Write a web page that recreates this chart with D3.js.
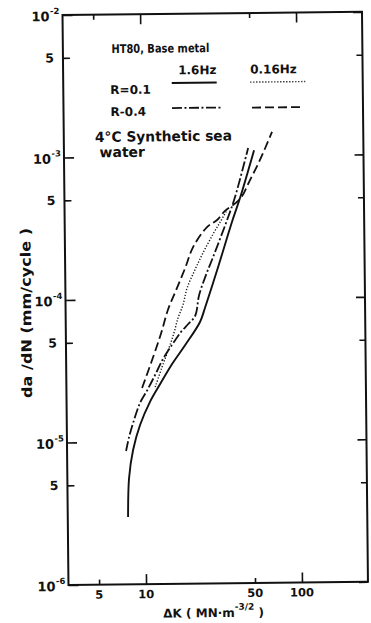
<!DOCTYPE html>
<html>
<head>
<meta charset="utf-8">
<script src="https://cdn.jsdelivr.net/npm/d3@7"></script>
<style>
  body { margin: 0; background: #fff; }
  text { font-family: "DejaVu Sans", sans-serif; font-weight: bold; fill: #111; }
</style>
</head>
<body>
<svg id="chart" width="371" height="623"></svg>
<script>
// Data

const kTicks = [5, 10, 50, 100];
const kTickLabels = ["5", "10", "50", "100"];
const kMinorTicks = [5, 50];
const kMajorTicks = [10, 100];

const rateDecades = [1e-2, 1e-3, 1e-4, 1e-5, 1e-6];
const rateDecadeExps = ["-2", "-3", "-4", "-5", "-6"];
const rateFives = [5e-3, 5e-4, 5e-5, 5e-6];
const rateFiveLabels = ["5", "5", "5", "5"];

// R=0.1, 1.6Hz  (solid)
const r01f16K    = [7.75, 7.91, 8.43, 9.38, 10.9, 12.7, 15.2, 18.5, 23.1, 24.9, 30.0, 37.6, 42.5, 52.7];
const r01f16Rate = [2.97e-6, 5.57e-6, 8.76e-6, 1.31e-5, 1.90e-5, 2.53e-5, 3.49e-5, 4.73e-5, 6.85e-5, 8.58e-5, 1.58e-4, 3.43e-4, 5.04e-4, 1.09e-3];

// R=0.1, 0.16Hz (dotted)
const r01f016K    = [11.8, 13.1, 14.4, 15.7, 16.7, 18.0, 19.2, 21.6, 24.4, 28.4, 31.6, 35.0];
const r01f016Rate = [2.41e-5, 3.33e-5, 4.38e-5, 5.76e-5, 7.33e-5, 9.04e-5, 1.19e-4, 1.59e-4, 2.09e-4, 2.83e-4, 3.43e-4, 4.16e-4];

// R=0.4, 1.6Hz  (dash-dot)
const r04f16K    = [7.60, 7.96, 8.46, 9.41, 10.5, 11.8, 13.3, 15.2, 17.4, 19.4, 21.5, 22.9, 25.4, 28.3, 35.0, 39.5, 48.3];
const r04f16Rate = [8.62e-6, 1.08e-5, 1.35e-5, 1.87e-5, 2.30e-5, 2.93e-5, 3.79e-5, 4.74e-5, 5.84e-5, 6.64e-5, 7.55e-5, 1.06e-4, 1.46e-4, 1.95e-4, 3.54e-4, 5.13e-4, 1.13e-3];

// R=0.4, 0.16Hz (dashed)
const r04f016K    = [9.72, 11.5, 13.0, 14.4, 16.3, 18.7, 21.1, 26.0, 30.2, 34.0, 42.5, 49.4, 57.4, 68.9];
const r04f016Rate = [2.38e-5, 3.92e-5, 5.77e-5, 8.36e-5, 1.15e-4, 1.64e-4, 2.30e-4, 3.17e-4, 3.55e-4, 4.10e-4, 4.96e-4, 6.73e-4, 9.29e-4, 1.46e-3];

// Layout

const frame = {left: 65.5, right: 365, top: 13.4, bottom: 583.4};

const x = d3.scaleLog().domain([3.18, 265]).range([frame.left, frame.right]);
const y = d3.scaleLog().domain([1e-6, 1e-2]).range([frame.bottom, frame.top]);

const svg = d3.select("#chart");
svg.append("rect").attr("width", 371).attr("height", 623).attr("fill", "#fff");

// the scan is tilted a little
const g = svg.append("g").attr("transform", "rotate(-0.6, 215, 300)");

// Axes (inward ticks on all four sides)

function ticks(axisFn, scale, values, size, translate) {
    g.append("g")
        .attr("transform", translate)
        .call(axisFn(scale).tickValues(values).tickSize(size).tickSizeOuter(0).tickFormat(""))
        .call(a => a.select(".domain").remove())
        .selectAll("line")
            .attr("stroke", "#111")
            .attr("stroke-width", 1.6);
}

ticks(d3.axisLeft, y, rateDecades, -10, "translate(" + frame.left + ",0)");
ticks(d3.axisLeft, y, rateFives, -7, "translate(" + frame.left + ",0)");
ticks(d3.axisRight, y, rateDecades, -9, "translate(" + frame.right + ",0)");
ticks(d3.axisRight, y, rateFives, -6, "translate(" + frame.right + ",0)");
ticks(d3.axisBottom, x, kMajorTicks, -10, "translate(0," + frame.bottom + ")");
ticks(d3.axisBottom, x, kMinorTicks, -5, "translate(0," + frame.bottom + ")");
ticks(d3.axisTop, x, kMajorTicks, -10, "translate(0," + frame.top + ")");
ticks(d3.axisTop, x, kMinorTicks, -5, "translate(0," + frame.top + ")");

g.append("rect")
    .attr("x", frame.left)
    .attr("y", frame.top)
    .attr("width", frame.right - frame.left)
    .attr("height", frame.bottom - frame.top)
    .attr("fill", "none")
    .attr("stroke", "#111")
    .attr("stroke-width", 2);

// x tick labels
g.selectAll(".xlab")
    .data(kTicks)
    .enter().append("text")
        .attr("class", "xlab")
        .attr("x", d => x(d))
        .attr("y", frame.bottom + 14)
        .attr("text-anchor", "middle")
        .attr("font-size", 11.5)
        .text((d, i) => kTickLabels[i]);

// y tick labels: 10^n
let dec = g.selectAll(".ydec")
    .data(rateDecades)
    .enter().append("g")
        .attr("class", "ydec");
dec.append("text")
    .attr("x", frame.left - 13)
    .attr("y", d => y(d) + 6)
    .attr("text-anchor", "end")
    .attr("font-size", 13)
    .text("10");
dec.append("text")
    .attr("x", frame.left - 12.5)
    .attr("y", d => y(d) - 1)
    .attr("font-size", 8.5)
    .text((d, i) => rateDecadeExps[i]);

// y tick labels: 5
g.selectAll(".yfive")
    .data(rateFives)
    .enter().append("text")
        .attr("class", "yfive")
        .attr("x", frame.left - 9)
        .attr("y", d => y(d) + 4.5)
        .attr("text-anchor", "end")
        .attr("font-size", 12.5)
        .text((d, i) => rateFiveLabels[i]);

// axis titles
g.append("text")
    .attr("transform", "translate(31,311) rotate(-90)")
    .attr("text-anchor", "middle")
    .attr("font-size", 14)
    .attr("textLength", 170)
    .attr("lengthAdjust", "spacingAndGlyphs")
    .text("da /dN (mm/cycle )");

let xt = g.append("text")
    .attr("x", 160)
    .attr("y", 617)
    .attr("font-size", 12);
xt.append("tspan").text("\u0394K ( MN\u00b7m");
xt.append("tspan").attr("dy", -7).attr("font-size", 9).text("-3/2");
xt.append("tspan").attr("dy", 7).text(" )");

// Curves

const series = [
    {k: r01f16K,  rate: r01f16Rate,  dash: null,          width: 1.9},
    {k: r01f016K, rate: r01f016Rate, dash: "1.2,1.8",     width: 1.4},
    {k: r04f16K,  rate: r04f16Rate,  dash: "10,2.5,2,2.5", width: 1.8},
    {k: r04f016K, rate: r04f016Rate, dash: "9,4",         width: 1.8}
];

const line = d3.line()
    .x(d => x(d[0]))
    .y(d => y(d[1]))
    .curve(d3.curveCatmullRom.alpha(0.5));

g.selectAll(".curve")
    .data(series)
    .enter().append("path")
        .attr("class", "curve")
        .attr("d", s => line(s.k.map((k, i) => [k, s.rate[i]])))
        .attr("fill", "none")
        .attr("stroke", "#111")
        .attr("stroke-width", s => s.width)
        .attr("stroke-dasharray", s => s.dash)
        .attr("stroke-linecap", "butt");

// Legend

g.append("text").attr("x", 114).attr("y", 52).attr("font-size", 12)
    .attr("textLength", 98).attr("lengthAdjust", "spacingAndGlyphs")
    .text("HT80, Base metal");
g.append("text").attr("x", 180.5).attr("y", 74).attr("font-size", 12).text("1.6Hz");
g.append("text").attr("x", 252.5).attr("y", 74).attr("font-size", 12).text("0.16Hz");
g.append("text").attr("x", 112.5).attr("y", 93).attr("font-size", 12).text("R=0.1");
g.append("text").attr("x", 112.5).attr("y", 115).attr("font-size", 12).text("R-0.4");

const legendRows = [
    {x1: 174, x2: 219, y: 82.6, s: series[0]},
    {x1: 252.5, x2: 307.5, y: 82.5, s: series[1]},
    {x1: 174, x2: 224, y: 107.6, s: series[2]},
    {x1: 254, x2: 305, y: 108, s: series[3]}
];
g.selectAll(".legline")
    .data(legendRows)
    .enter().append("line")
        .attr("class", "legline")
        .attr("x1", d => d.x1).attr("x2", d => d.x2)
        .attr("y1", d => d.y).attr("y2", d => d.y)
        .attr("stroke", "#111")
        .attr("stroke-width", d => d.s.width)
        .attr("stroke-dasharray", d => d.s.dash);

g.append("text").attr("x", 96.7).attr("y", 140.7).attr("font-size", 14)
    .attr("textLength", 137).attr("lengthAdjust", "spacingAndGlyphs")
    .text("4\u00b0C Synthetic sea");
g.append("text").attr("x", 101).attr("y", 156).attr("font-size", 14).text("water");
</script>
</body>
</html>
